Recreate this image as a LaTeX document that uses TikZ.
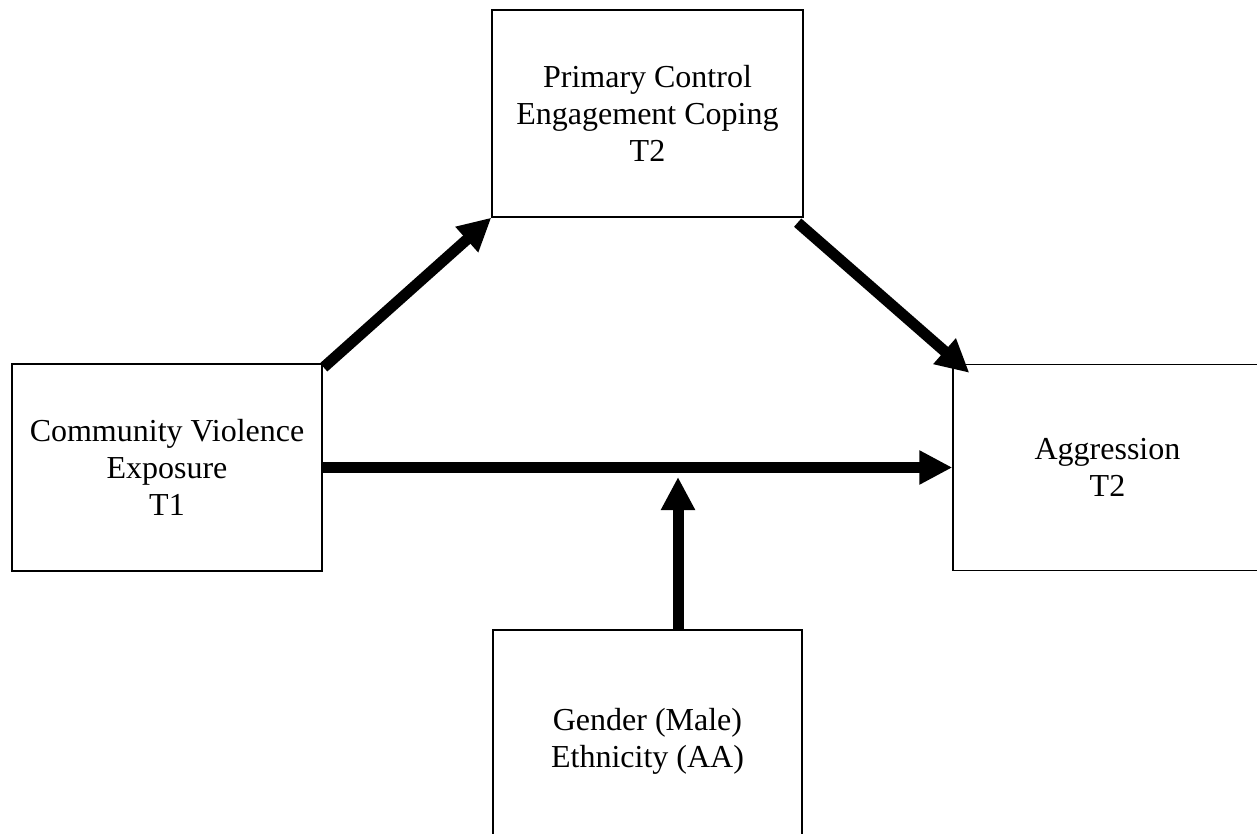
\documentclass[tikz,border=0pt]{standalone}
\usepackage{fontspec}
\setmainfont{Liberation Serif}
\usetikzlibrary{arrows.meta,calc}
\begin{document}
\begin{tikzpicture}[x=1pt,y=-1pt,
  box/.style={draw=black,line width=1.3pt,fill=white,align=center,inner sep=0pt,
    font=\fontsize{32}{37}\selectfont},
  conn/.style={line width=11pt,-{Triangle[width=32pt,length=33pt]}}]
\useasboundingbox (0,0) rectangle (1257,834);
\clip (0,0) rectangle (1257,834);
\fill[white] (0,0) rectangle (1257,834);
\node[box,minimum width=311pt,minimum height=207pt] (pc) at (647.5,113.5)
  {Primary Control\\Engagement Coping\\T2};
\node[box,minimum width=310pt,minimum height=207pt] (cve) at (167,467.5)
  {Community Violence\\Exposure\\T1};
\node[box,minimum width=309pt,minimum height=206pt] (agg) at (1107.5,467.5)
  {Aggression\\T2};
\node[box,minimum width=309pt,minimum height=222pt] (demo) at (647.5,741)
  {Gender (Male)\\Ethnicity (AA)};
\coordinate (mod) at (678,477);
\draw[conn] ($(cve.north east)+(1,4)$) -- (pc.south west);
\draw[conn] ($(pc.south east)+(-6,5)$) -- ($(agg.north west)+(17,9)$);
\draw[conn] (cve.east) -- (agg.west);
\draw[conn] ($(demo.north)+(30.5,0)$) -- (mod);
\end{tikzpicture}
\end{document}
